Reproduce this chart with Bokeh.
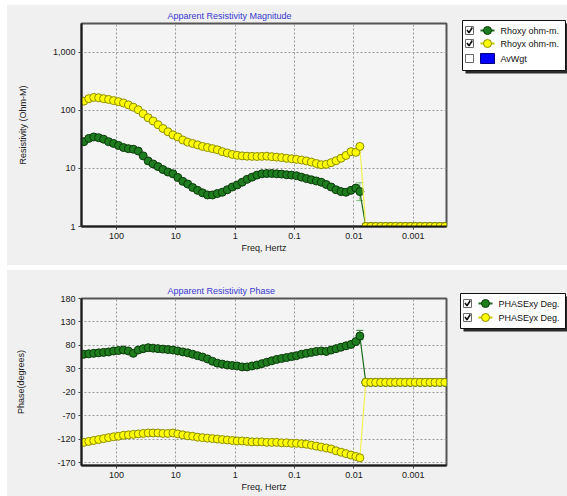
from bokeh.plotting import figure
from bokeh.models import (Range1d, FixedTicker, CustomJSTickFormatter, ColumnDataSource,
                          Spacer, Whisker, TeeHead)
from bokeh.layouts import column, row
from bokeh.embed import file_html
from bokeh.resources import INLINE
from bokeh.core.properties import value

# ---------------- data ----------------
freq = [355, 293, 242, 200, 165, 136, 112,
        92.7, 76.4, 63.1, 52.1, 43.0, 35.5, 29.3, 24.2, 20.0, 16.5, 13.6, 11.2,
        9.27, 7.64, 6.31, 5.21, 4.30, 3.55, 2.93, 2.42, 2.00, 1.65, 1.36, 1.12,
        0.927, 0.764, 0.631, 0.521, 0.430, 0.355, 0.293, 0.242, 0.200, 0.165, 0.136, 0.112,
        0.0927, 0.0764, 0.0631, 0.0521, 0.0430, 0.0355, 0.0293, 0.0242, 0.0200, 0.0165, 0.0136, 0.0112,
        0.00927, 0.00794]

rhoxy = [29, 33, 35, 34, 32, 29, 27,
         25, 23, 22, 21.5, 20, 16.5, 13.5, 12, 10.8, 9.6, 8.7, 8.1,
         7.0, 6.0, 5.4, 4.7, 4.2, 3.8, 3.5, 3.5, 3.7, 3.9, 4.3, 4.8,
         5.2, 5.8, 6.5, 7.1, 7.7, 8.1, 8.2, 8.2, 8.1, 8.0, 7.8, 7.7,
         7.5, 7.1, 6.7, 6.4, 6.1, 5.8, 5.3, 4.8, 4.3, 4.0, 3.9, 4.2,
         4.6, 4.0]

rhoyx = [145, 160, 168, 166, 160, 155, 148,
         142, 135, 125, 114, 103, 88, 75, 66, 57, 49, 43, 38,
         35, 31, 28.5, 27, 25.5, 24, 23, 22, 21, 19.5, 18.5, 17.5,
         16.9, 16.5, 16.3, 16.2, 16.1, 16.2, 16.3, 16.0, 15.7, 15.4, 15.0, 14.7,
         14.4, 14.0, 13.5, 12.9, 12.2, 11.6, 11.8, 12.6, 13.6, 15.0, 16.8, 19.5,
         19.0, 24.0]

phasexy = [61, 62, 63, 64, 65, 66, 68,
           69, 70, 68, 63, 70, 73, 75, 74, 73, 72, 71, 70,
           68, 66, 64, 61, 58, 55, 51, 46, 42, 40, 38, 37,
           36, 34, 34, 36, 38, 41, 44, 47, 50, 52, 54, 56,
           58, 61, 63, 65, 67, 68, 67, 70, 73, 76, 79, 82,
           88, 100]

phaseyx = [-127, -125, -123, -121, -119, -117, -115,
           -114, -112, -111, -110, -109, -108, -107, -107, -107, -108, -108, -107,
           -109, -111, -113, -114, -116, -117, -118, -119, -120, -121, -122, -123,
           -124, -124, -125, -126, -126, -126, -127, -127, -127, -128, -128, -129,
           -129, -130, -131, -133, -135, -137, -139, -141, -145, -148, -151, -154,
           -157, -160]

# placeholder points beyond the last measured frequency
freq_fill = [0.00631, 0.00521, 0.00430, 0.00355, 0.00293, 0.00242, 0.00200, 0.00165, 0.00136,
             0.00112, 0.000927, 0.000764, 0.000631, 0.000521, 0.000430, 0.000355, 0.000293]
rho_fill = [1, 1, 1, 1, 1, 1, 1, 1, 1, 1, 1, 1, 1, 1, 1, 1, 1]
phase_fill = [1, 1, 1, 1, 1, 1, 1, 1, 1, 1, 1, 1, 1, 1, 1, 1, 1]

# error bar on the last measured Rhoxy / PHASExy point
err_freq = [0.00794]
rho_err_lo = [2.8]
rho_err_hi = [5.7]
phase_err_lo = [92]
phase_err_hi = [112]

x_ticks = [100, 10, 1, 0.1, 0.01, 0.001]
rho_ticks = [1, 10, 100, 1000]
phase_ticks = [-170, -120, -70, -20, 30, 80, 130, 180]

# ---------------- styles ----------------
FONT = "Liberation Sans"
BG = "#f0f0f0"
PLOT_BG = "#f4f4f4"
G_FILL, G_EDGE, G_LINE = "#1e7d1e", "#0b3a0b", "#1a6a1a"
Y_FILL, Y_EDGE, Y_LINE = "#ffff00", "#8c8c00", "#f2f250"
TITLE_C = "#3838d0"

fmt = CustomJSTickFormatter(code="return tick.toLocaleString('en-US', {maximumFractionDigits: 3});")


def main_fig(title, height, y_type, y_range, yticks, ylabel, ylab_standoff, top, bottom, xstand):
    p = figure(width=448, height=height, x_axis_type="log", y_axis_type=y_type,
               x_range=Range1d(10 ** 2.59, 10 ** -3.56), y_range=y_range,
               output_backend="svg", toolbar_location=None, title=title,
               min_border_left=74, min_border_right=9, min_border_top=top, min_border_bottom=bottom,
               background_fill_color=PLOT_BG, border_fill_color=BG, frame_align=False)
    p.title.align = "left"
    p.title.offset = 86
    p.title.standoff = 5
    p.title.text_font = FONT
    p.title.text_font_size = "9px"
    p.title.text_font_style = "normal"
    p.title.text_color = TITLE_C

    p.xaxis.ticker = FixedTicker(ticks=x_ticks)
    p.yaxis.ticker = FixedTicker(ticks=yticks)
    p.axis.formatter = fmt
    p.axis.major_label_text_font = FONT
    p.axis.major_label_text_font_size = "9px"
    p.axis.major_label_text_color = "#202020"
    p.axis.axis_line_width = 2
    p.axis.axis_line_color = "#1a1a1a"
    p.axis.major_tick_in = 0
    p.axis.major_tick_out = 3
    p.axis.minor_tick_in = 0
    p.axis.minor_tick_out = 0
    p.axis.major_tick_line_color = "#404040"
    p.xaxis.major_label_standoff = xstand
    p.yaxis.major_label_standoff = 3

    p.xaxis.axis_label = "Freq, Hertz"
    p.yaxis.axis_label = ylabel
    p.axis.axis_label_text_font = FONT
    p.axis.axis_label_text_font_size = "9px"
    p.axis.axis_label_text_font_style = "normal"
    p.axis.axis_label_text_color = "#202020"
    p.xaxis.axis_label_standoff = 1
    p.yaxis.axis_label_standoff = ylab_standoff

    p.grid.grid_line_color = "#9a9a9a"
    p.grid.grid_line_dash = "2 2"
    p.grid.grid_line_width = 1
    p.outline_line_color = "#555555"
    p.outline_line_width = 2
    return p


def add_series(p, y_main, y_fill, line_c, fill_c, edge_c):
    src = ColumnDataSource(dict(f=freq + freq_fill, v=y_main + y_fill))
    p.line("f", "v", source=src, line_color=line_c, line_width=1.2)
    p.scatter("f", "v", source=src, marker="circle", size=8, fill_color=fill_c,
              line_color=edge_c, line_width=1)


# ---------------- top panel: magnitude ----------------
top = main_fig("Apparent Resistivity Magnitude", 260, "log", Range1d(1, 3162), rho_ticks,
               "Resistivity (Ohm-M)", 22, 18, 39, 3)
add_series(top, rhoxy, rho_fill, G_LINE, G_FILL, G_EDGE)
top.add_layout(Whisker(source=ColumnDataSource(dict(b=err_freq, lo=rho_err_lo, hi=rho_err_hi)),
                       base="b", lower="lo", upper="hi", dimension="height",
                       line_color="#7fc07f", line_width=1,
                       upper_head=TeeHead(size=7, line_color="#7fc07f"),
                       lower_head=TeeHead(size=7, line_color="#7fc07f")))
add_series(top, rhoyx, rho_fill, Y_LINE, Y_FILL, Y_EDGE)

# ---------------- bottom panel: phase ----------------
bot = main_fig("Apparent Resistivity Phase", 226, "linear", Range1d(-176.4, 180), phase_ticks,
               "Phase(degrees)", 28, 28, 31, 3)
add_series(bot, phasexy, phase_fill, G_LINE, G_FILL, G_EDGE)
bot.add_layout(Whisker(source=ColumnDataSource(dict(b=err_freq, lo=phase_err_lo, hi=phase_err_hi)),
                       base="b", lower="lo", upper="hi", dimension="height",
                       line_color="#2e7d2e", line_width=1,
                       upper_head=TeeHead(size=7, line_color="#2e7d2e"),
                       lower_head=TeeHead(size=7, line_color="#2e7d2e")))
add_series(bot, phaseyx, phase_fill, Y_LINE, Y_FILL, Y_EDGE)


# ---------------- legends (drawn in small side panels) ----------------
def plain_fig(width, height, bg):
    q = figure(width=width, height=height, x_range=Range1d(0, width), y_range=Range1d(height, 0),
               x_axis_location=None, y_axis_location=None, output_backend="svg",
               toolbar_location=None, min_border=0, border_fill_color=bg,
               background_fill_color=bg, outline_line_color=None, frame_align=False)
    q.grid.visible = False
    return q


def legend_fig(height, box, rows, x_chk, x_mark, x_text):
    q = plain_fig(112, height, BG)
    l, r, t, b = box
    q.quad(left=l + 3, right=r + 3, top=t + 3, bottom=b + 3, fill_color="#2a2a2a", line_color=None)
    q.quad(left=l, right=r, top=t, bottom=b, fill_color="white", line_color="#111111", line_width=1)
    for (y, label, kind, checked) in rows:
        q.quad(left=x_chk, right=x_chk + 8, top=y - 4, bottom=y + 4, fill_color="white",
               line_color="#6a6a6a", line_width=1)
        if checked:
            q.line([x_chk + 1.5, x_chk + 3.5, x_chk + 6.8], [y - 0.5, y + 2.2, y - 3],
                   line_color="#111111", line_width=1.6)
        if kind == "box":
            q.quad(left=x_mark, right=x_mark + 14, top=y - 5, bottom=y + 5,
                   fill_color="#0000ff", line_color="#00007a", line_width=1)
        else:
            lc, fc, ec = kind
            q.line([x_mark, x_mark + 14], [y, y], line_color=lc, line_width=2)
            q.scatter([x_mark + 7], [y], marker="circle", size=8, fill_color=fc,
                      line_color=ec, line_width=1)
        q.text(x=[x_text], y=[y], text=[label], text_font=value(FONT),
               text_font_size=value("9px"), text_baseline="middle", text_color="#111111")
    return q


top_leg = legend_fig(260, (7, 110, 15, 65),
                     [(25, "Rhoxy ohm-m.", (G_LINE, G_FILL, G_EDGE), True),
                      (38, "Rhoyx ohm-m.", ("#c8c800", Y_FILL, Y_EDGE), True),
                      (53, "AvWgt", "box", False)],
                     10, 25, 45)
bot_leg = legend_fig(226, (5, 110, 23, 58),
                     [(33, "PHASExy Deg.", (G_LINE, G_FILL, G_EDGE), True),
                      (47, "PHASEyx Deg.", ("#c8c800", Y_FILL, Y_EDGE), True)],
                     8, 23, 43)

# separator bar between the two panels
sep = plain_fig(560, 5, "#d2d2d2")
sep.quad(left=0, right=560, top=0, bottom=1.5, fill_color="#e2e2e2", line_color=None)
sep.quad(left=0, right=560, top=2.5, bottom=3.5, fill_color="#e8e8e8", line_color=None)

layout = row(Spacer(width=7, height=496, styles={"background-color": "white"}),
             column(Spacer(width=560, height=5, styles={"background-color": "white"}),
                    row(top, top_leg, styles={"background-color": BG}),
                    sep,
                    row(bot, bot_leg, styles={"background-color": BG})))

open("out.html", "w").write(file_html(layout, INLINE))
